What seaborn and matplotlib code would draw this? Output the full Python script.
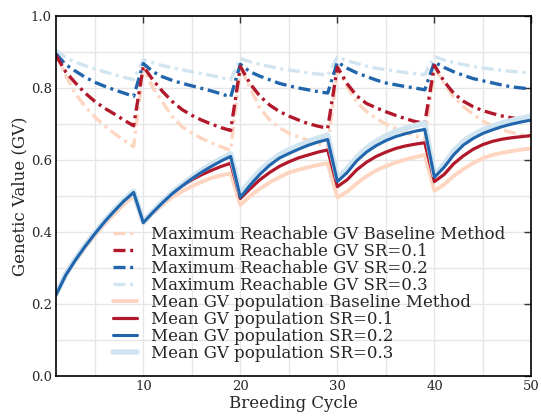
import matplotlib
matplotlib.use('Agg')
import matplotlib.pyplot as plt
import seaborn as sns
from matplotlib.ticker import MultipleLocator

# x axis: breeding cycles
cycles = list(range(1, 51))

# maximum reachable GV (dash-dot lines)
max_base = [0.900, 0.835, 0.784, 0.749, 0.720, 0.695, 0.674, 0.655, 0.637,
            0.855, 0.800, 0.760, 0.720, 0.692, 0.675, 0.660, 0.648, 0.637, 0.627,
            0.857, 0.800, 0.745, 0.712, 0.690, 0.674, 0.664, 0.655, 0.646, 0.638,
            0.852, 0.805, 0.760, 0.735, 0.715, 0.700, 0.688, 0.677, 0.667, 0.658,
            0.857, 0.812, 0.775, 0.748, 0.726, 0.708, 0.694, 0.684, 0.676, 0.670, 0.666]
max_sr1 = [0.890, 0.845, 0.814, 0.786, 0.763, 0.744, 0.728, 0.711, 0.695,
           0.860, 0.822, 0.790, 0.762, 0.740, 0.724, 0.711, 0.700, 0.690, 0.682,
           0.860, 0.812, 0.778, 0.753, 0.735, 0.722, 0.711, 0.701, 0.694, 0.688,
           0.858, 0.812, 0.778, 0.757, 0.745, 0.734, 0.724, 0.715, 0.707, 0.702,
           0.863, 0.818, 0.785, 0.763, 0.748, 0.737, 0.729, 0.722, 0.717, 0.712, 0.709]
max_sr2 = [0.895, 0.865, 0.847, 0.830, 0.816, 0.805, 0.795, 0.786, 0.777,
           0.868, 0.845, 0.831, 0.821, 0.813, 0.806, 0.799, 0.792, 0.784, 0.775,
           0.866, 0.845, 0.833, 0.823, 0.813, 0.806, 0.800, 0.795, 0.790, 0.786,
           0.872, 0.855, 0.842, 0.832, 0.822, 0.814, 0.809, 0.804, 0.800, 0.795,
           0.872, 0.857, 0.845, 0.835, 0.826, 0.820, 0.814, 0.808, 0.803, 0.800, 0.797]
max_sr3 = [0.905, 0.885, 0.872, 0.862, 0.853, 0.845, 0.837, 0.830, 0.823,
           0.878, 0.870, 0.862, 0.856, 0.851, 0.845, 0.840, 0.835, 0.829, 0.823,
           0.882, 0.873, 0.866, 0.860, 0.854, 0.850, 0.846, 0.842, 0.839, 0.836,
           0.886, 0.876, 0.868, 0.861, 0.855, 0.851, 0.847, 0.843, 0.840, 0.837,
           0.887, 0.878, 0.871, 0.865, 0.860, 0.856, 0.852, 0.849, 0.846, 0.844, 0.842]

# mean GV of the population (solid lines)
mean_base = [0.225, 0.279, 0.320, 0.357, 0.390, 0.422, 0.450, 0.477, 0.500,
             0.424, 0.452, 0.476, 0.497, 0.513, 0.527, 0.539, 0.550, 0.557, 0.563,
             0.475, 0.500, 0.520, 0.537, 0.552, 0.565, 0.573, 0.580, 0.586, 0.591,
             0.496, 0.512, 0.535, 0.555, 0.571, 0.583, 0.593, 0.601, 0.608, 0.614,
             0.515, 0.532, 0.556, 0.575, 0.592, 0.605, 0.614, 0.620, 0.625, 0.629, 0.632]
mean_sr1 = [0.225, 0.280, 0.322, 0.360, 0.395, 0.428, 0.458, 0.486, 0.510,
            0.426, 0.455, 0.482, 0.507, 0.528, 0.545, 0.559, 0.571, 0.582, 0.591,
            0.493, 0.520, 0.545, 0.565, 0.582, 0.595, 0.606, 0.614, 0.622, 0.628,
            0.526, 0.545, 0.573, 0.594, 0.610, 0.622, 0.632, 0.639, 0.644, 0.648,
            0.540, 0.560, 0.590, 0.612, 0.630, 0.643, 0.652, 0.658, 0.662, 0.665, 0.668]
mean_sr2 = [0.225, 0.280, 0.322, 0.360, 0.395, 0.428, 0.458, 0.486, 0.510,
            0.426, 0.455, 0.482, 0.507, 0.528, 0.548, 0.566, 0.582, 0.597, 0.610,
            0.496, 0.530, 0.560, 0.585, 0.605, 0.618, 0.630, 0.641, 0.650, 0.657,
            0.540, 0.565, 0.598, 0.622, 0.640, 0.654, 0.665, 0.673, 0.680, 0.685,
            0.552, 0.580, 0.615, 0.642, 0.660, 0.674, 0.684, 0.693, 0.700, 0.706, 0.711]
mean_sr3 = [0.228, 0.283, 0.325, 0.363, 0.398, 0.431, 0.461, 0.489, 0.513,
            0.428, 0.458, 0.485, 0.510, 0.532, 0.552, 0.571, 0.588, 0.603, 0.617,
            0.507, 0.540, 0.570, 0.594, 0.614, 0.628, 0.640, 0.651, 0.661, 0.669,
            0.549, 0.575, 0.608, 0.633, 0.652, 0.667, 0.679, 0.688, 0.696, 0.702,
            0.558, 0.588, 0.625, 0.652, 0.670, 0.684, 0.694, 0.703, 0.710, 0.716, 0.722]

labels = ['Maximum Reachable GV Baseline Method',
          'Maximum Reachable GV SR=0.1',
          'Maximum Reachable GV SR=0.2',
          'Maximum Reachable GV SR=0.3',
          'Mean GV population Baseline Method',
          'Mean GV population SR=0.1',
          'Mean GV population SR=0.2',
          'Mean GV population SR=0.3']

c_base = '#fdd5c0'
c_sr1 = '#b2182b'
c_sr2 = '#2166ac'
c_sr3 = '#d1e5f0'

sns.set_style('white')
plt.rcParams['font.family'] = ['DejaVu Serif']

fig, ax = plt.subplots(figsize=(5.41, 4.17), dpi=100)
fig.subplots_adjust(left=0.1035, right=0.9824, bottom=0.0983, top=0.9616)

dashdot = (0, (3.6, 1.4, 0.9, 1.4))

# max reachable lines
sns.lineplot(x=cycles, y=max_base, color=c_base, lw=2.4, linestyle=dashdot, label=labels[0], ax=ax)
sns.lineplot(x=cycles, y=max_sr3, color=c_sr3, lw=2.4, linestyle=dashdot, label=labels[3], ax=ax)
sns.lineplot(x=cycles, y=max_sr2, color=c_sr2, lw=2.4, linestyle=dashdot, label=labels[2], ax=ax)
sns.lineplot(x=cycles, y=max_sr1, color=c_sr1, lw=2.4, linestyle=dashdot, label=labels[1], ax=ax)

# mean lines
sns.lineplot(x=cycles, y=mean_base, color=c_base, lw=2.8, label=labels[4], ax=ax)
sns.lineplot(x=cycles, y=mean_sr1, color=c_sr1, lw=2.3, label=labels[5], ax=ax)
sns.lineplot(x=cycles, y=mean_sr3, color=c_sr3, lw=4.0, label=labels[7], ax=ax)
sns.lineplot(x=cycles, y=mean_sr2, color=c_sr2, lw=2.2, label=labels[6], ax=ax)

ax.set_xlim(1, 50)
ax.set_ylim(0, 1)
ax.xaxis.set_major_locator(MultipleLocator(10))
ax.xaxis.set_minor_locator(MultipleLocator(5))
ax.yaxis.set_major_locator(MultipleLocator(0.2))
ax.yaxis.set_minor_locator(MultipleLocator(0.1))
ax.yaxis.set_major_formatter(matplotlib.ticker.FormatStrFormatter('%.1f'))
ax.grid(True, which='both', color='#e6e6e6', lw=1.0)
ax.set_axisbelow(True)
ax.tick_params(which='major', direction='in', top=True, right=True, length=5,
               width=1, labelsize=9.5, pad=3, color='#333333')
ax.tick_params(which='minor', length=0)
for s in ax.spines.values():
    s.set_color('black')
    s.set_linewidth(1.2)

ax.set_xlabel('Breeding Cycle', fontsize=12, labelpad=1)
ax.set_ylabel('Genetic Value (GV)', fontsize=12, labelpad=2)

handles, labs = ax.get_legend_handles_labels()
order = [labs.index(l) for l in labels]
ax.legend([handles[i] for i in order], [labs[i] for i in order],
          loc='upper left', bbox_to_anchor=(0.12, 0.418), frameon=False,
          fontsize=12, handlelength=1.45, handletextpad=0.8, labelspacing=0.0,
          borderpad=0, borderaxespad=0)

fig.savefig('out.png', dpi=100)
